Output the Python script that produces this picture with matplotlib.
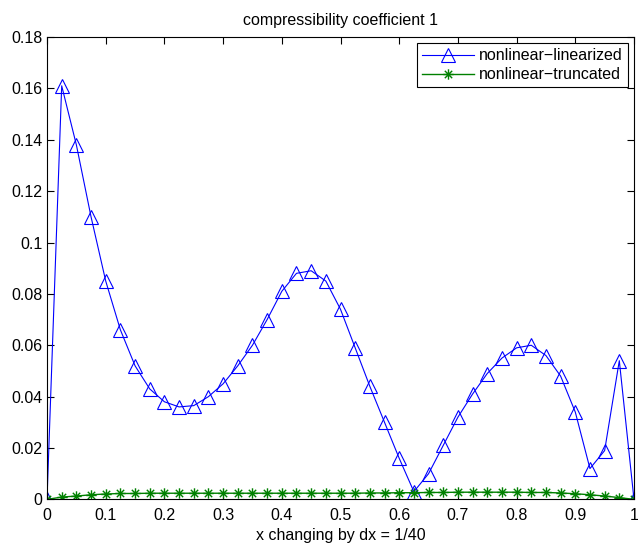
import numpy as np
import matplotlib
matplotlib.use("Agg")
import matplotlib.pyplot as plt
import matplotlib.ticker as ticker
from matplotlib.path import Path

# grid points, dx = 1/40
x = np.arange(41) / 40

# nonlinear vs linearized difference
linearized = [
    0.0, 0.161, 0.138, 0.110, 0.085, 0.066, 0.052, 0.043, 0.038, 0.036,
    0.0365, 0.040, 0.045, 0.052, 0.060, 0.070, 0.081, 0.088, 0.089, 0.085,
    0.074, 0.059, 0.044, 0.030, 0.016, 0.003, 0.010, 0.021, 0.032, 0.041,
    0.049, 0.055, 0.059, 0.060, 0.056, 0.048, 0.034, 0.012, 0.019, 0.054,
    0.0,
]

# nonlinear vs truncated difference
truncated = [
    0.0, 0.0009, 0.0013, 0.0018, 0.0021, 0.0023, 0.0023, 0.0024, 0.0024, 0.0024,
    0.0024, 0.0024, 0.0024, 0.0024, 0.0024, 0.0024, 0.0024, 0.0024, 0.0024, 0.0024,
    0.0024, 0.0024, 0.0025, 0.0025, 0.0026, 0.0026, 0.0027, 0.0027, 0.0028, 0.0028,
    0.0028, 0.0028, 0.0028, 0.0027, 0.0027, 0.0025, 0.0022, 0.0018, 0.0013, 0.0007,
    0.0,
]

# asterisk marker: plus and cross drawn as open strokes
d = 0.7071
asterisk = Path(
    [(-1, 0), (1, 0), (0, -1), (0, 1), (-d, -d), (d, d), (-d, d), (d, -d)],
    [Path.MOVETO, Path.LINETO] * 4,
)

plt.rcParams["font.family"] = ["Liberation Sans", "DejaVu Sans"]
plt.rcParams["font.size"] = 11.5

fig = plt.figure(figsize=(6.38, 5.44), dpi=100)
ax = fig.add_axes([0.0737, 0.082, 0.92, 0.850])

ax.plot(x, linearized, color="blue", linewidth=0.8, marker="^",
        markersize=9.5, markerfacecolor="none", markeredgecolor="blue",
        markeredgewidth=0.8, label="nonlinear\u2212linearized")
ax.plot(x, truncated, color="green", linewidth=1.0, marker=asterisk,
        markersize=7.5, markerfacecolor="none", markeredgecolor="green",
        markeredgewidth=1.0, label="nonlinear\u2212truncated")

ax.set_xlim(0, 1)
ax.set_ylim(0, 0.18)
ax.xaxis.set_major_locator(ticker.MultipleLocator(0.1))
ax.yaxis.set_major_locator(ticker.MultipleLocator(0.02))
ax.xaxis.set_major_formatter(ticker.FormatStrFormatter("%g"))
ax.yaxis.set_major_formatter(ticker.FormatStrFormatter("%g"))
ax.tick_params(direction="in", top=True, right=True, length=5, width=0.8,
               labelsize=11.5)
ax.tick_params(axis="x", pad=6.5)
for s in ax.spines.values():
    s.set_linewidth(0.8)

ax.set_title("compressibility coefficient 1", fontsize=11.5, pad=8.5)
ax.set_xlabel("x changing by dx = 1/40", fontsize=11.5, labelpad=3)

leg = ax.legend(loc="upper right", fancybox=False, edgecolor="black",
                framealpha=1, borderaxespad=0.4, handlelength=3.3,
                handletextpad=0.3, borderpad=0.3, labelspacing=0.25,
                fontsize=11.5)
leg.get_frame().set_linewidth(0.8)

fig.savefig("out.png", dpi=100)
